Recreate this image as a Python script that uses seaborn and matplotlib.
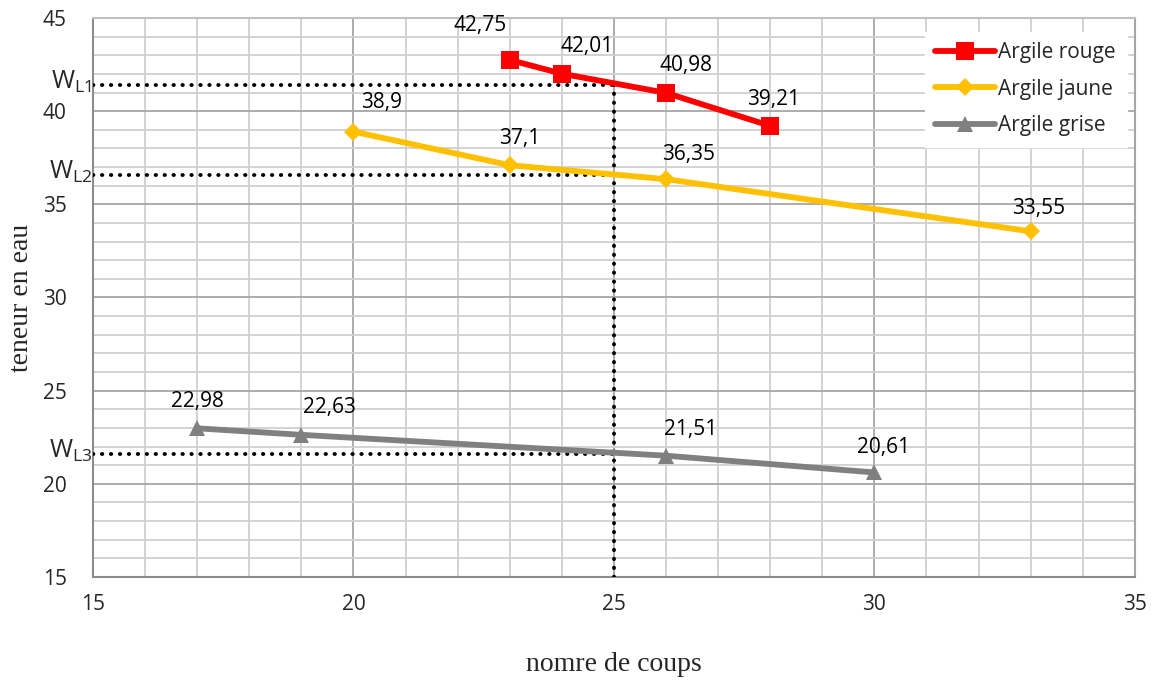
import matplotlib
matplotlib.use("Agg")
import matplotlib.pyplot as plt
import seaborn as sns
import pandas as pd
from matplotlib.ticker import MultipleLocator

# ---- data ----
rouge_x = [23, 24, 26, 28]
rouge_y = [42.75, 42.01, 40.98, 39.21]
jaune_x = [20, 23, 26, 33]
jaune_y = [38.9, 37.1, 36.35, 33.55]
grise_x = [17, 19, 26, 30]
grise_y = [22.98, 22.63, 21.51, 20.61]
series_names = ["Argile rouge", "Argile jaune", "Argile grise"]
wl_values = [41.4, 36.6, 21.6]
wl_labels = ["L1", "L2", "L3"]
x_ref = 25
x_ticks = [15, 20, 25, 30, 35]
y_ticks = [15, 20, 25, 30, 35, 40, 45]

# ---- style ----
sns.set_style("white")
FONT = "Open Sans"
plt.rcParams["font.family"] = [FONT, "DejaVu Sans"]
plt.rcParams["mathtext.fontset"] = "custom"
plt.rcParams["mathtext.rm"] = FONT

colors = ["#FF0000", "#FFC000", "#808080"]
markers = ["s", "D", "^"]
msizes = [13, 9, 12]
# label offsets (pixels)
label_offsets = [
    [(-30, 34), (25, 27), (20, 27), (3, 26)],
    [(28, 29), (10, 27), (23, 25), (8, 23)],
    [(0, 27), (28, 27), (25, 26), (9, 25)],
]

frames = []
for name, xs, ys in zip(series_names, [rouge_x, jaune_x, grise_x], [rouge_y, jaune_y, grise_y]):
    frames.append(pd.DataFrame({"x": xs, "y": ys, "serie": name}))
df = pd.concat(frames, ignore_index=True)

fig = plt.figure(figsize=(11.58, 6.81), dpi=100)
ax = fig.add_axes([0.0803, 0.1527, 0.8997, 0.8209])

ax.set_xlim(15, 35)
ax.set_ylim(15, 45)
ax.xaxis.set_major_locator(MultipleLocator(5))
ax.xaxis.set_minor_locator(MultipleLocator(1))
ax.yaxis.set_major_locator(MultipleLocator(5))
ax.yaxis.set_minor_locator(MultipleLocator(1))
ax.grid(which="major", color="#a6a6a6", linewidth=1.3, zorder=0)
ax.grid(which="minor", color="#d0d0d0", linewidth=1.3, zorder=0)
ax.set_axisbelow(True)
for s in ax.spines.values():
    s.set_color("#8c8c8c")
    s.set_linewidth(1.5)
ax.spines["top"].set_color("#c0c0c0")
ax.spines["right"].set_color("#a6a6a6")

# dotted reference lines
for wl in wl_values:
    ax.plot([15, x_ref], [wl, wl], color="black", linestyle=(0, (0.1, 2.2)),
            dash_capstyle="round", linewidth=2.8, zorder=4)
ax.plot([x_ref, x_ref], [15, max(wl_values)], color="black", linestyle=(0, (0.1, 2.2)),
        dash_capstyle="round", linewidth=2.8, zorder=4)

for i, name in enumerate(series_names):
    sub = df[df["serie"] == name]
    sns.lineplot(data=sub, x="x", y="y", ax=ax, color=colors[i], linewidth=4.2,
                 marker=markers[i], markersize=msizes[i], markeredgewidth=0,
                 label=name, zorder=5, sort=False)
    for j, (xv, yv) in enumerate(zip(sub["x"], sub["y"])):
        dx, dy = label_offsets[i][j]
        ax.annotate(f"{yv:g}".replace(".", ","), (xv, yv), xytext=(dx, dy),
                    textcoords="offset pixels", ha="center", va="center",
                    fontsize=15, color="black", zorder=6)

for wl, lab in zip(wl_values, wl_labels):
    ax.annotate(r"W$_{\mathrm{" + lab + "}}$", (15, wl), xytext=(-1, 3),
                textcoords="offset pixels", ha="right", va="center",
                fontsize=18, annotation_clip=False)

ax.set_xticks(x_ticks)
ax.set_yticks(y_ticks)
ax.set_xticklabels([str(t) for t in x_ticks], fontsize=15)
ax.set_yticklabels([str(t) for t in y_ticks], fontsize=15)
ax.tick_params(axis="both", which="both", length=0)
ax.tick_params(axis="y", pad=19)
ax.tick_params(axis="x", pad=12)

ax.set_xlabel("nomre de coups", fontsize=20, family="Liberation Serif", labelpad=27)
ax.set_ylabel("teneur en eau", fontsize=20, family="Liberation Serif", labelpad=6)

leg = ax.legend(loc="upper right", bbox_to_anchor=(0.996, 0.983), frameon=True,
                fontsize=15, handlelength=2.9, handletextpad=0.15, labelspacing=0.75,
                borderpad=0.5, borderaxespad=0.2)
leg.get_frame().set_edgecolor("white")
leg.get_frame().set_facecolor("white")
leg.get_frame().set_alpha(1)
leg.get_frame().set_boxstyle("square", pad=0)

fig.savefig("out.png", dpi=100)
